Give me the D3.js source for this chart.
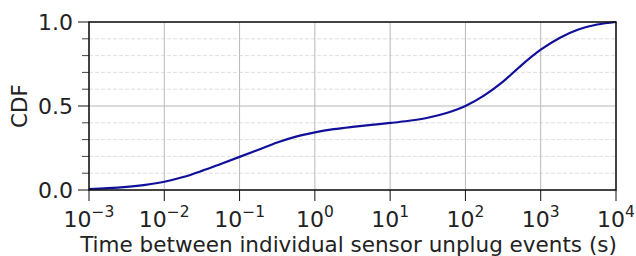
<!DOCTYPE html>
<html><head><meta charset="utf-8">
<script src="https://cdn.jsdelivr.net/npm/d3@7"></script>
<style>body{margin:0;background:#fff}svg{display:block}text{font-family:"DejaVu Sans",sans-serif;fill:#222}</style>
</head><body><svg id="c" width="636" height="256"></svg>
<script>
const xValues = [0.001,0.00178,0.00316,0.00562,0.01,0.0178,0.0316,0.0562,0.1,0.178,0.316,0.562,1,1.78,3.16,5.62,10,17.8,31.6,56.2,100,178,316,562,1000,1778,3162,5623,10000];
const cdfValues = [0.006,0.011,0.019,0.031,0.049,0.077,0.114,0.155,0.197,0.240,0.283,0.318,0.343,0.362,0.376,0.388,0.399,0.412,0.430,0.458,0.500,0.563,0.645,0.745,0.835,0.905,0.955,0.985,1.0];
const xTickExps = [-3,-2,-1,0,1,2,3,4];
const yTickLabels = ["0.0","0.5","1.0"];
const yMajor = [0,0.5,1];
const yMinor = [0.1,0.2,0.3,0.4,0.6,0.7,0.8,0.9];
const xLabel = "Time between individual sensor unplug events (s)";
const yLabel = "CDF";

const svg = d3.select("#c");
const L=89,R=616,T=22,B=190;
const x = d3.scaleLog().domain([1e-3,1e4]).range([L,R]);
const y = d3.scaleLinear().domain([0,1]).range([B,T]);

// grid
svg.append("g").selectAll("line").data(yMinor).join("line")
 .attr("x1",L).attr("x2",R).attr("y1",d=>y(d)).attr("y2",d=>y(d))
 .attr("stroke","#d6d6d6").attr("stroke-width",0.8).attr("stroke-dasharray","4,2");
svg.append("g").selectAll("line").data(yMajor).join("line")
 .attr("x1",L).attr("x2",R).attr("y1",d=>y(d)).attr("y2",d=>y(d))
 .attr("stroke","#b8b8b8").attr("stroke-width",1);
svg.append("g").selectAll("line").data(xTickExps).join("line")
 .attr("x1",d=>x(Math.pow(10,d))).attr("x2",d=>x(Math.pow(10,d))).attr("y1",T).attr("y2",B)
 .attr("stroke","#b8b8b8").attr("stroke-width",1);

// line
const line = d3.line().x((d,i)=>x(xValues[i])).y(d=>y(d)).curve(d3.curveMonotoneX);
svg.append("path").datum(cdfValues).attr("d",line)
 .attr("fill","none").attr("stroke","#10109a").attr("stroke-width",2.2);

// frame
svg.append("rect").attr("x",L).attr("y",T).attr("width",R-L).attr("height",B-T)
 .attr("fill","none").attr("stroke","#111").attr("stroke-width",1.5);

// y axis ticks
svg.append("g").selectAll("line").data(yMajor).join("line")
 .attr("x1",L-11).attr("x2",L).attr("y1",d=>y(d)).attr("y2",d=>y(d)).attr("stroke","#111").attr("stroke-width",1);
svg.append("g").selectAll("line").data(yMinor).join("line")
 .attr("x1",L-7).attr("x2",L).attr("y1",d=>y(d)).attr("y2",d=>y(d)).attr("stroke","#111").attr("stroke-width",0.8);
svg.append("g").selectAll("text").data(yMajor).join("text")
 .attr("x",L-16).attr("y",d=>y(d)+8).attr("text-anchor","end").attr("font-size",22)
 .text((d,i)=>yTickLabels[i]);

// x axis ticks
svg.append("g").selectAll("line").data(xTickExps).join("line")
 .attr("x1",d=>x(Math.pow(10,d))).attr("x2",d=>x(Math.pow(10,d))).attr("y1",B).attr("y2",B+11)
 .attr("stroke","#111").attr("stroke-width",1);
const xt = svg.append("g").selectAll("text").data(xTickExps).join("text")
 .attr("x",d=>x(Math.pow(10,d))).attr("y",227).attr("text-anchor","middle").attr("font-size",22);
xt.append("tspan").text("10");
xt.append("tspan").attr("dy",-10).attr("font-size",15.5).text(d=>d<0?"\u2212"+(-d):String(d));

// labels
svg.append("text").attr("x",(L+R)/2-4).attr("y",252).attr("text-anchor","middle").attr("font-size",21.5).text(xLabel);
svg.append("text").attr("transform",`translate(27,${(T+B)/2}) rotate(-90)`).attr("text-anchor","middle").attr("font-size",21.5).text(yLabel);
</script></body></html>
